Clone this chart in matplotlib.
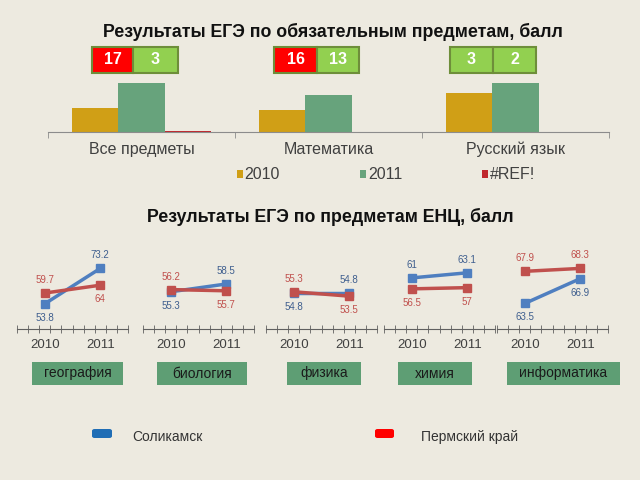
import numpy as np
import matplotlib
matplotlib.use('Agg')
import matplotlib.pyplot as plt
from matplotlib.patches import Rectangle, FancyBboxPatch

plt.rcParams['font.family'] = ['Liberation Sans', 'DejaVu Sans']

bg = '#EDEAE0'

# --- top chart data
subjects = ['Все предметы', 'Математика', 'Русский язык']
years = ['2010', '2011', '#REF!']
val_2010 = [24, 22, 39]
val_2011 = [49, 37, 49]
val_ref = [0.8, 0, 0]
box_red = [17, 16, None]
box_green = [3, 13, 3]
box_green2 = [None, None, 2]

# --- lower panels data
panels = ['география', 'биология', 'физика', 'химия', 'информатика']
solikamsk = [[53.8, 73.2], [55.3, 58.5], [54.8, 54.8], [61, 63.1], [63.5, 66.9]]
perm = [[59.7, 64], [56.2, 55.7], [55.3, 53.5], [56.5, 57], [67.9, 68.3]]
panel_ylim = [(40, 80), (40, 70), (40, 70), (40, 70), (60, 70)]
xyears = ['2010', '2011']

fig = plt.figure(figsize=(6.4, 4.8), dpi=100, facecolor=bg)

def px_axes(x0, y0, x1, y1):
    return fig.add_axes([x0/640, 1-y1/480, (x1-x0)/640, (y1-y0)/480])

def fig_rect(x0, y0, x1, y1, **kw):
    r = Rectangle((x0/640, 1-y1/480), (x1-x0)/640, (y1-y0)/480,
                  transform=fig.transFigure, **kw)
    fig.add_artist(r)
    return r

fig.text(333/640, 1-32/480, 'Результаты ЕГЭ по обязательным предметам, балл',
         ha='center', va='center', fontsize=12.8, fontweight='bold', color='#111111')
fig.text(330/640, 1-217/480, 'Результаты ЕГЭ по предметам ЕНЦ, балл',
         ha='center', va='center', fontsize=12.8, fontweight='bold', color='#111111')

# bars
ax = px_axes(48, 60, 609, 132)
ax.set_facecolor('none')
x = np.arange(len(subjects))
w = 0.246
ax.bar(x - w, val_2010, w, color='#D09F16', label=years[0])
ax.bar(x, val_2011, w, color='#67A37C', label=years[1])
ax.bar(x + w, val_ref, w, color='#C0282D', label=years[2])
ax.set_xlim(-0.5, 2.5)
ax.set_ylim(0, 72)
ax.set_yticks([])
for s in ['left', 'right', 'top']:
    ax.spines[s].set_visible(False)
ax.spines['bottom'].set_color('#8C8C8C')
ax.set_xticks(x)
ax.set_xticklabels(subjects, fontsize=11.5, color='#404040')
ax.tick_params(axis='x', length=0, pad=7)
ax.set_xticks([-0.5, 0.5, 1.5, 2.5], minor=True)
ax.tick_params(axis='x', which='minor', length=4, color='#8C8C8C')

leg = fig.legend(loc='center', bbox_to_anchor=(386/640, 1-175/480), ncol=3,
                 frameon=False, fontsize=11.5, handlelength=0.4, handleheight=0.4,
                 handletextpad=0.1, columnspacing=5.0)
for t in leg.get_texts():
    t.set_color('#404040')

# number boxes above the bars
box_pos = [(92, 133, 178), (274, 317, 359), (450, 493, 536)]
for i, (a, b, c) in enumerate(box_pos):
    if box_red[i] is not None:
        left = (box_red[i], '#FF0000')
    else:
        left = (box_green[i], '#92D050')
    right = (box_green[i] if box_red[i] is not None else box_green2[i], '#92D050')
    for (v, col), (x0, x1) in zip([left, right], [(a, b), (b, c)]):
        fig_rect(x0, 47, x1, 73, facecolor=col, edgecolor='#6E8E3A', lw=1.5)
        fig.text((x0+x1)/2/640, 1-60/480, str(v), ha='center', va='center',
                 color='white', fontsize=11.5, fontweight='bold')

# line panels
panel_x0 = [17, 143, 266, 384, 497]
box_x = [(32, 123), (157, 247), (287, 361), (398, 472), (507, 620)]
blue, red = '#4F7FC0', '#C0504D'
for i, name in enumerate(panels):
    a = px_axes(panel_x0[i], 256, panel_x0[i]+111, 329)
    a.set_facecolor('none')
    a.plot([0, 1], solikamsk[i], color=blue, lw=2.5, marker='s', ms=6)
    a.plot([0, 1], perm[i], color=red, lw=2.5, marker='s', ms=6)
    a.set_xlim(-0.5, 1.5)
    a.set_ylim(*panel_ylim[i])
    a.set_yticks([])
    for s in ['left', 'right', 'top']:
        a.spines[s].set_visible(False)
    a.spines['bottom'].set_color('#606060')
    a.set_xticks([0, 1])
    a.set_xticklabels(xyears, fontsize=9.5, color='#404040')
    a.tick_params(axis='x', length=0, pad=7)
    a.set_xticks(np.arange(-0.5, 1.51, 0.2), minor=True)
    a.tick_params(axis='x', which='minor', direction='inout', length=6,
                  color='#606060')
    for j in range(2):
        sb, sp = solikamsk[i][j], perm[i][j]
        up_b = sb > sp
        a.annotate(str(sb), (j, sb), xytext=(0, 13 if up_b else -14),
                   textcoords='offset pixels', ha='center', va='center',
                   fontsize=7, color='#3E5E8E')
        a.annotate(str(sp), (j, sp), xytext=(0, -14 if up_b else 13),
                   textcoords='offset pixels', ha='center', va='center',
                   fontsize=7, color=red)
    x0, x1 = box_x[i]
    fig_rect(x0, 362, x1, 385, facecolor='#5E9E74', edgecolor='none')
    fig.text((x0+x1)/2/640, 1-373.5/480, name, ha='center', va='center',
             fontsize=10, color='#1A1A1A')

# bottom legend
for (x0, x1), col, txt, tx in [((92, 112), '#1F6DB5', 'Соликамск', 132),
                                ((375, 394), '#FF0000', 'Пермский край', 421)]:
    p = FancyBboxPatch((x0/640, 1-438/480), (x1-x0)/640, 9/480,
                       boxstyle='round,pad=0,rounding_size=0.004',
                       transform=fig.transFigure, facecolor=col, edgecolor='none')
    fig.add_artist(p)
    fig.text(tx/640, 1-437/480, txt, ha='left', va='center', fontsize=10,
             color='#333333')

fig.savefig('out.png', dpi=100, facecolor=bg)
